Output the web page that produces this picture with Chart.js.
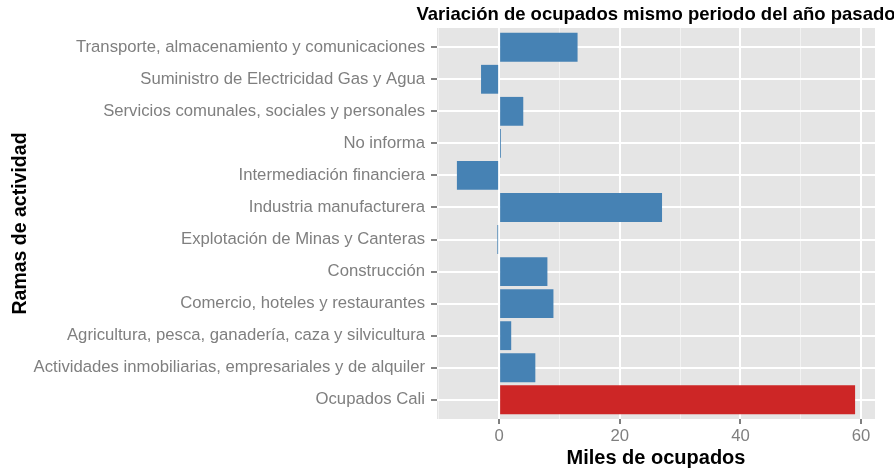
<!DOCTYPE html>
<html>
<head>
<meta charset="utf-8">
<script src="https://cdn.jsdelivr.net/npm/chart.js@4.4.0/dist/chart.umd.min.js"></script>
<style>
  html, body { margin: 0; padding: 0; background: #fff; }
  #wrap { width: 894px; height: 471px; position: relative; }
</style>
</head>
<body>
<div id="wrap"><canvas id="ocupadosChart"></canvas></div>
<script>
const ramas = [
  'Transporte, almacenamiento y comunicaciones',
  'Suministro de Electricidad Gas y Agua',
  'Servicios comunales, sociales y personales',
  'No informa',
  'Intermediación financiera',
  'Industria manufacturera',
  'Explotación de Minas y Canteras',
  'Construcción',
  'Comercio, hoteles y restaurantes',
  'Agricultura, pesca, ganadería, caza y silvicultura',
  'Actividades inmobiliarias, empresariales y de alquiler',
  'Ocupados Cali'
];
// variación en miles de ocupados
const variacion = [13, -3, 4, 0.3, -7, 27, -0.3, 8, 9, 2, 6, 59];
const xTicks = [-10, 0, 10, 20, 30, 40, 50, 60];
const xMin = -10.3;
const xMax = 62.3;

const azul = '#4682B4';
const rojo = '#CD2626';
const colores = ramas.map(r => r === 'Ocupados Cali' ? rojo : azul);

Chart.defaults.font.family = '"Liberation Sans", Arial, Helvetica, sans-serif';

// panel background + title centered over the panel
const panelPlugin = {
  id: 'panel',
  beforeDraw(chart) {
    const { ctx, chartArea: a } = chart;
    ctx.save();
    ctx.fillStyle = '#E5E5E5';
    ctx.fillRect(a.left, a.top, a.right - a.left, a.bottom - a.top);
    ctx.restore();
  },
  afterDraw(chart) {
    const { ctx, chartArea: a } = chart;
    ctx.save();
    ctx.font = 'bold 18.5px "Liberation Sans", Arial, sans-serif';
    ctx.fillStyle = '#000';
    ctx.textAlign = 'center';
    ctx.textBaseline = 'middle';
    ctx.fillText('Variación de ocupados mismo periodo del año pasado', (a.left + a.right) / 2, 15);
    ctx.restore();
  }
};

new Chart(document.getElementById('ocupadosChart'), {
  type: 'bar',
  data: {
    labels: ramas,
    datasets: [{
      data: variacion,
      backgroundColor: colores,
      borderWidth: 0,
      categoryPercentage: 0.9,
      barPercentage: 1
    }]
  },
  options: {
    indexAxis: 'y',
    responsive: true,
    maintainAspectRatio: false,
    animation: false,
    layout: { padding: { top: 28, right: 19, bottom: 0, left: 0 } },
    plugins: {
      legend: { display: false },
      tooltip: { enabled: false }
    },
    scales: {
      x: {
        type: 'linear',
        min: xMin,
        max: xMax,
        bounds: 'data',
        afterBuildTicks: (scale) => { scale.ticks = xTicks.map(v => ({ value: v })); },
        afterFit: (scale) => { scale.height = 52; },
        border: { display: false },
        grid: {
          color: (c) => c.tick && c.tick.value % 20 === 0 ? '#FFFFFF' : '#F2F2F2',
          lineWidth: (c) => c.tick && c.tick.value % 20 === 0 ? 2 : 1,
          tickColor: (c) => c.tick && c.tick.value % 20 === 0 ? '#7F7F7F' : 'rgba(0,0,0,0)',
          tickLength: 5,
          tickWidth: 2
        },
        ticks: {
          autoSkip: false,
          maxRotation: 0,
          padding: 2,
          color: '#7F7F7F',
          font: { size: 16.7 },
          callback: (v) => v % 20 === 0 ? v : ''
        },
        title: {
          display: true,
          text: 'Miles de ocupados',
          color: '#000',
          font: { size: 20, weight: 'bold' },
          padding: { top: 0, bottom: 1 }
        }
      },
      y: {
        afterBuildTicks: (scale) => {
          // ggplot pads discrete axes by 0.6 of a category
          scale._startValue -= 0.1;
          scale._valueRange += 0.2;
        },
        afterFit: (scale) => { scale.width = 437; },
        border: { display: false },
        grid: {
          offset: false,
          color: '#FFFFFF',
          lineWidth: 2,
          tickColor: '#7F7F7F',
          tickLength: 6,
          tickWidth: 2
        },
        ticks: {
          autoSkip: false,
          padding: 6,
          color: '#7F7F7F',
          font: { size: 16.7 }
        },
        title: {
          display: true,
          text: 'Ramas de actividad',
          color: '#000',
          font: { size: 19.5, weight: 'bold' },
          padding: { top: 9, bottom: 0 }
        }
      }
    }
  },
  plugins: [panelPlugin]
});
</script>
</body>
</html>
